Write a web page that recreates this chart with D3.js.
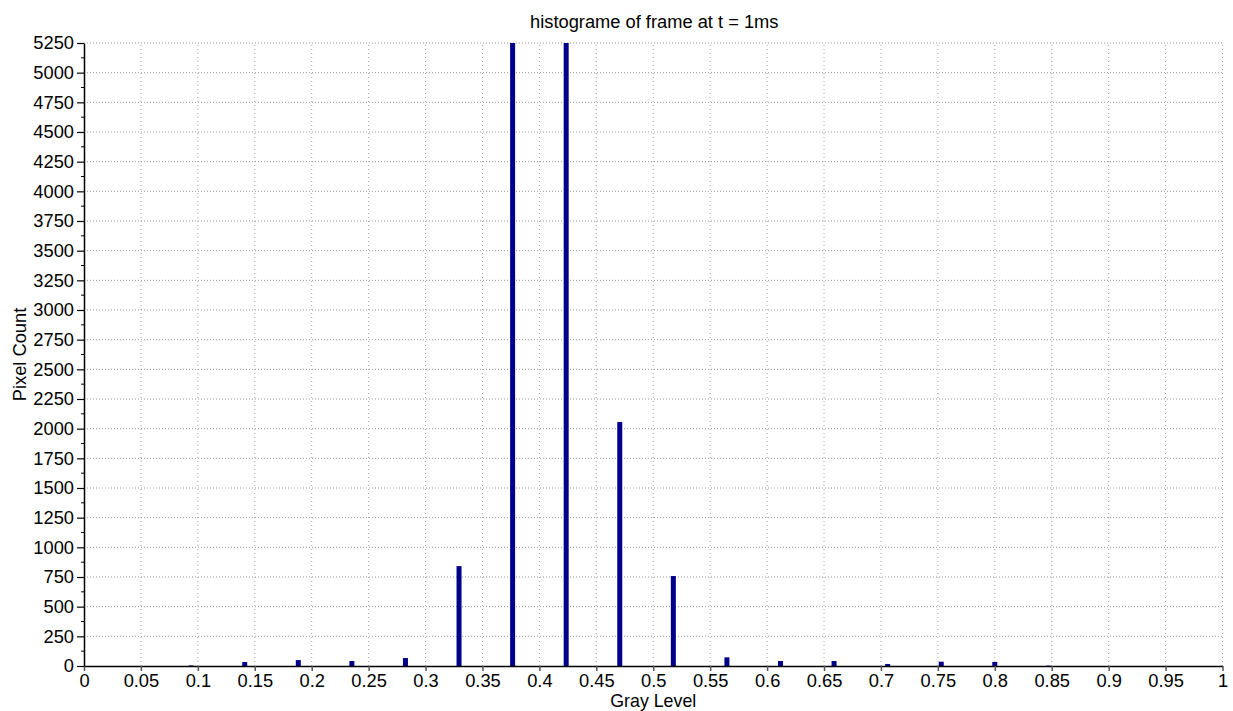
<!DOCTYPE html>
<html>
<head>
<meta charset="utf-8">
<script src="https://cdn.jsdelivr.net/npm/d3@7"></script>
<style>
  html, body { margin: 0; padding: 0; background: #fff; }
  svg { display: block; font-family: "Liberation Sans", Arial, Helvetica, sans-serif; }
</style>
</head>
<body>
<svg id="chart" width="1233" height="711"></svg>
<script>
// Histogram bins (gray level centres) and their pixel counts
const grayLevels = [24/255, 36/255, 48/255, 60/255, 72/255, 84/255, 96/255, 108/255,
                    120/255, 132/255, 144/255, 156/255, 168/255, 180/255, 192/255, 204/255, 216/255];
const pixelCounts = [5, 34, 50, 42, 67, 842, 6900, 6400,
                     2056, 758, 73, 42, 42, 17, 36, 34, 3];

const xTicks = d3.range(0, 1.0001, 0.05);
const yTicks = d3.range(0, 5251, 250);
const yMinorTicks = d3.range(125, 5250, 250);

const titleText = "histograme of frame at t = 1ms";
const xLabel = "Gray Level";
const yLabel = "Pixel Count";

const margin = { left: 84, right: 1233 - 1222.5, top: 43, bottom: 711 - 666 };
const width = 1233, height = 711;
const fontSize = 18.3;

const svg = d3.select("#chart");

const x = d3.scaleLinear().domain([0, 1]).range([margin.left, width - margin.right]);
const y = d3.scaleLinear().domain([0, 5250]).range([height - margin.bottom, margin.top]);

// Dotted grid
const grid = svg.append("g").attr("class", "grid");
grid.selectAll("line.v").data(xTicks.slice(1)).join("line")
  .attr("x1", d => x(d)).attr("x2", d => x(d))
  .attr("y1", y(0)).attr("y2", y(5250))
  .attr("stroke", "#a8a8a8").attr("stroke-width", 1)
  .attr("stroke-dasharray", "1,3");
grid.selectAll("line.h").data(yTicks.slice(1)).join("line")
  .attr("x1", x(0)).attr("x2", x(1))
  .attr("y1", d => y(d)).attr("y2", d => y(d))
  .attr("stroke", "#999").attr("stroke-width", 1)
  .attr("stroke-dasharray", "1,2");

// Bars, clipped to the plotting area
svg.append("clipPath").attr("id", "plotClip")
  .append("rect")
  .attr("x", x(0)).attr("y", y(5250))
  .attr("width", x(1) - x(0)).attr("height", y(0) - y(5250));

const barW = 5;
svg.append("g").attr("clip-path", "url(#plotClip)")
  .selectAll("rect").data(grayLevels.map((g, i) => ({ g, c: pixelCounts[i] })))
  .join("rect")
  .attr("x", d => x(d.g) - barW / 2)
  .attr("width", barW)
  .attr("y", d => y(d.c))
  .attr("height", d => y(0) - y(d.c))
  .attr("fill", "#00008b");

// X axis
const xAxis = d3.axisBottom(x)
  .tickValues(xTicks)
  .tickFormat(d => d3.format("~g")(+d.toFixed(2)))
  .tickSizeInner(5).tickSizeOuter(0).tickPadding(3);
const gx = svg.append("g").attr("transform", `translate(0,${y(0)})`).call(xAxis);
gx.select(".domain").attr("stroke", "#000").attr("stroke-width", 1.5);
gx.selectAll(".tick line").attr("stroke", "#555").attr("stroke-width", 1.5);
gx.selectAll(".tick text").attr("font-size", fontSize).attr("fill", "#000")
  .attr("font-family", "Liberation Sans, Arial, sans-serif");

// Y axis with minor ticks
const yAxis = d3.axisLeft(y).tickValues(yTicks).tickFormat(d3.format("d"))
  .tickSizeInner(7).tickSizeOuter(0).tickPadding(3);
const gy = svg.append("g").attr("transform", `translate(${x(0)},0)`).call(yAxis);
gy.select(".domain").attr("stroke", "#000").attr("stroke-width", 1.5);
gy.selectAll(".tick line").attr("stroke", "#000").attr("stroke-width", 1.2);
gy.selectAll(".tick text").attr("font-size", fontSize).attr("fill", "#000")
  .attr("font-family", "Liberation Sans, Arial, sans-serif");
gy.selectAll("line.minor").data(yMinorTicks).join("line")
  .attr("class", "minor")
  .attr("x1", -3).attr("x2", 0)
  .attr("y1", d => y(d)).attr("y2", d => y(d))
  .attr("stroke", "#000").attr("stroke-width", 1);

// Title and axis labels
svg.append("text")
  .attr("x", (x(0) + x(1)) / 2 + 1).attr("y", 28)
  .attr("text-anchor", "middle").attr("font-size", fontSize).attr("fill", "#000")
  .text(titleText);

svg.append("text")
  .attr("x", (x(0) + x(1)) / 2).attr("y", 707)
  .attr("text-anchor", "middle").attr("font-size", 17.8).attr("fill", "#000")
  .text(xLabel);

svg.append("text")
  .attr("transform", `translate(26,${(y(0) + y(5250)) / 2}) rotate(-90)`)
  .attr("text-anchor", "middle").attr("font-size", fontSize).attr("fill", "#000")
  .text(yLabel);
</script>
</body>
</html>
